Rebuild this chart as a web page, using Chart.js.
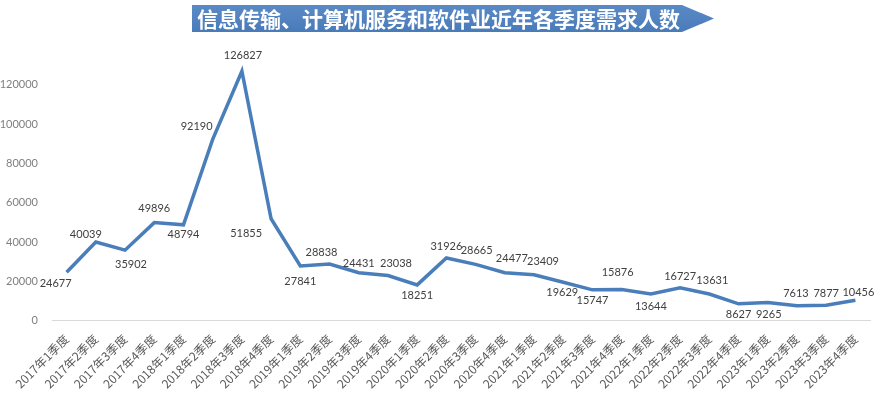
<!DOCTYPE html>
<html>
<head>
<meta charset="utf-8">
<script src="https://cdn.jsdelivr.net/npm/chart.js@4"></script>
<style>
  html, body { margin: 0; padding: 0; background: #fff; }
  #wrap { position: relative; width: 876px; height: 394px; }
  #banner {
    position: absolute; left: 192px; top: 5px; width: 522px; height: 27px;
    background: linear-gradient(#5a8ac6, #4a7bb9);
    clip-path: polygon(0 0, calc(100% - 32px) 0, 100% 50%, calc(100% - 32px) 100%, 0 100%);
    color: #fff; font: bold 21px "Noto Sans CJK SC", sans-serif;
    line-height: 27px; padding-left: 5px; box-sizing: border-box; white-space: nowrap;
  }
  canvas { position: absolute; left: 0; top: 0; }
</style>
</head>
<body>
<div id="wrap">
  <canvas id="chart" width="876" height="394"></canvas>
  <div id="banner">信息传输、计算机服务和软件业近年各季度需求人数</div>
</div>
<script>
const years = ['2017', '2018', '2019', '2020', '2021', '2022', '2023'];
const quarters = ['1', '2', '3', '4'];
const categories = years.flatMap(y => quarters.map(q => y + '年' + q + '季度'));

const demand = [
  24677, 40039, 35902, 49896, 48794, 92190, 126827, 51855,
  27841, 28838, 24431, 23038, 18251, 31926, 28665, 24477,
  23409, 19629, 15747, 15876, 13644, 16727, 13631, 8627,
  9265, 7613, 7877, 10456
];

const yTicks = [0, 20000, 40000, 60000, 80000, 100000, 120000];

// where each value label sits relative to its point (px)
const labelOffsets = [
  [-11, 11], [-10, -8], [6, 14], [0, -14], [0, 10], [-16, -13], [1, -16], [-25, 15],
  [0, 15], [-8, -12], [0, -9], [8, -12], [0, 11], [0, -12], [1, -14], [7, -14],
  [9, -13], [-1, 10], [0, 11], [-4, -17], [0, 12], [0, -11], [3, -14], [0, 11],
  [1, 12], [-1, -12], [0, -12], [3, -8]
];

const valueLabels = {
  id: 'valueLabels',
  afterDatasetsDraw(chart) {
    const ctx = chart.ctx;
    const meta = chart.getDatasetMeta(0);
    ctx.save();
    ctx.font = '11px Lato, sans-serif';
    ctx.fillStyle = '#404040';
    ctx.textAlign = 'center';
    ctx.textBaseline = 'middle';
    meta.data.forEach((pt, i) => {
      const [dx, dy] = labelOffsets[i];
      ctx.fillText(String(demand[i]), pt.x + dx, pt.y + dy);
    });
    ctx.restore();
  }
};

new Chart(document.getElementById('chart'), {
  type: 'line',
  data: {
    labels: categories,
    datasets: [{
      data: demand,
      borderColor: '#4a7ebb',
      borderWidth: 3.5,
      pointRadius: 0,
      tension: 0,
      fill: false
    }]
  },
  options: {
    responsive: false,
    animation: false,
    layout: { padding: { top: 65, right: 6, bottom: 0, left: 0 } },
    plugins: { legend: { display: false }, tooltip: { enabled: false } },
    scales: {
      x: {
        offset: true,
        grid: { display: false },
        border: { color: '#d9d9d9' },
        ticks: {
          minRotation: 45, maxRotation: 45, autoSkip: false,
          color: '#595959', font: { size: 12, family: '"Noto Sans CJK SC", sans-serif' }
        }
      },
      y: {
        min: 0, max: 130000,
        afterBuildTicks: scale => { scale.ticks = yTicks.map(v => ({ value: v })); },
        afterFit: scale => { scale.width = 52; },
        grid: { display: false },
        border: { display: false },
        ticks: {
          color: '#7f7f7f', font: { size: 11, family: 'Lato, sans-serif' }, padding: 6,
          callback: v => String(v)
        }
      }
    }
  },
  plugins: [valueLabels]
});
</script>
</body>
</html>
